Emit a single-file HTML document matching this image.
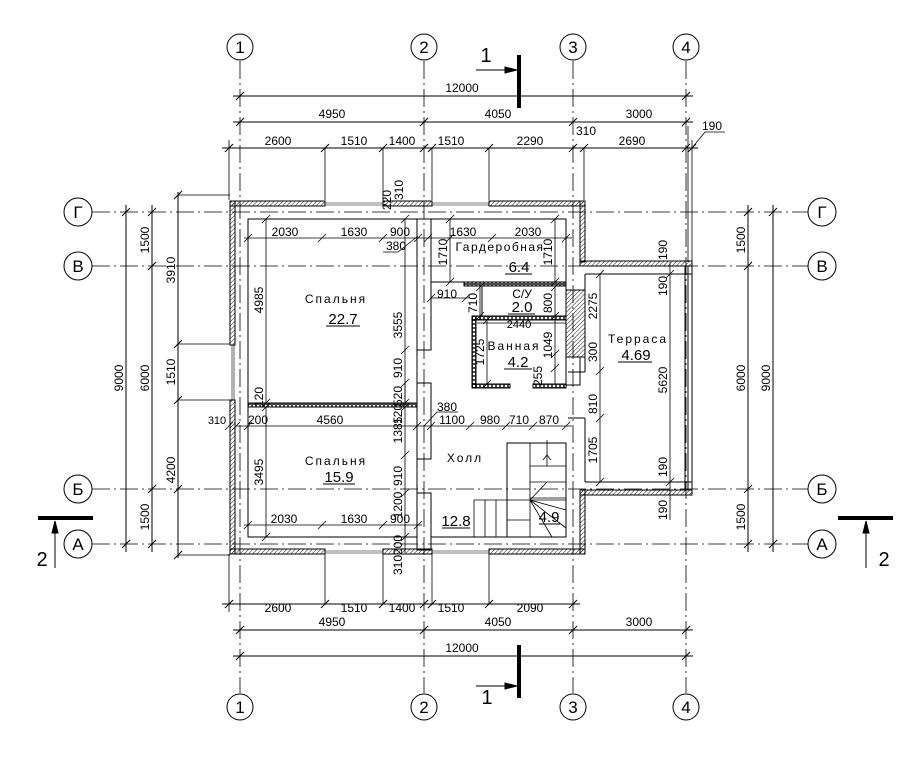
<!DOCTYPE html>
<html><head><meta charset="utf-8"><style>
html,body{margin:0;padding:0;background:#fff}
svg{display:block}
text{font-family:"Liberation Sans",sans-serif;font-size:12px;fill:#000}
</style></head><body>
<svg width="911" height="762" viewBox="0 0 911 762" xmlns="http://www.w3.org/2000/svg">
<defs>
<pattern id="h" width="3" height="3" patternUnits="userSpaceOnUse" patternTransform="rotate(45)"><line x1="0" y1="0" x2="0" y2="3" stroke="#000" stroke-width="0.9"/></pattern>
<pattern id="b" width="4" height="4" patternUnits="userSpaceOnUse"><rect x="0.5" y="0.5" width="3" height="3" fill="none" stroke="#000" stroke-width="0.7"/></pattern>
</defs>
<g stroke="#000" fill="none" stroke-width="1">
<g stroke-dasharray="18,4,2,4" stroke-width="0.8">
<line x1="240" y1="61" x2="240" y2="693"/><line x1="424" y1="61" x2="424" y2="693"/>
<line x1="573" y1="61" x2="573" y2="693"/><line x1="686" y1="61" x2="686" y2="693"/>
<line x1="92" y1="212" x2="808" y2="212"/><line x1="92" y1="266" x2="808" y2="266"/>
<line x1="92" y1="489" x2="808" y2="489"/><line x1="92" y1="544" x2="808" y2="544"/>
</g>
<circle cx="240" cy="47" r="13"/><circle cx="424" cy="47" r="13"/><circle cx="573" cy="47" r="13"/><circle cx="686" cy="47" r="13"/>
<circle cx="240" cy="707" r="13"/><circle cx="424" cy="707" r="13"/><circle cx="573" cy="707" r="13"/><circle cx="686" cy="707" r="13"/>
<circle cx="78" cy="212" r="14"/><circle cx="78" cy="266" r="14"/><circle cx="78" cy="489" r="14"/><circle cx="78" cy="544" r="14"/>
<circle cx="822" cy="212" r="14"/><circle cx="822" cy="266" r="14"/><circle cx="822" cy="489" r="14"/><circle cx="822" cy="544" r="14"/>

<line x1="233" y1="96" x2="693" y2="96"/>
<line x1="233" y1="122" x2="693" y2="122"/>
<line x1="222" y1="148" x2="698" y2="148"/>
<path d="M236 100L244 92M682 100L690 92M236 126L244 118M420 126L428 118M569 126L577 118M682 126L690 118
M225 152L233 144M321 152L329 144M379 152L387 144M420 152L428 144M428 152L436 144M485 152L493 144M569 152L577 144M580 152L588 144M682 152L690 144M688 152L696 144"/>
<path d="M229 140V200M325 148V200M383 148V200M432 148V200M489 148V200M584 148V200M692 140V262M688 126V262" stroke-width="0.8"/>
<path d="M692 148L705 132H725" stroke-width="0.8"/>
<line x1="222" y1="604" x2="580" y2="604"/>
<line x1="233" y1="630" x2="693" y2="630"/>
<line x1="233" y1="656" x2="693" y2="656"/>
<path d="M225 608L233 600M321 608L329 600M379 608L387 600M420 608L428 600M428 608L436 600M485 608L493 600M569 608L577 600
M236 634L244 626M420 634L428 626M569 634L577 626M682 634L690 626M236 660L244 652M682 660L690 652"/>
<path d="M229 554V612M325 554V604M383 554V604M432 554V604M489 554V604" stroke-width="0.8"/>
<line x1="126" y1="205" x2="126" y2="552"/><line x1="152" y1="205" x2="152" y2="552"/><line x1="178" y1="192" x2="178" y2="558"/>
<path d="M122 216L130 208M122 548L130 540M148 216L156 208M148 270L156 262M148 493L156 485M148 548L156 540M174 199L182 191M174 348L182 340M174 404L182 396M174 493L182 485M174 559L182 551"/>
<path d="M178 344H230M178 400H230M178 195H230M178 555H230" stroke-width="0.8"/>
<line x1="748" y1="205" x2="748" y2="552"/><line x1="773" y1="205" x2="773" y2="552"/>
<path d="M744 216L752 208M744 270L752 262M744 493L752 485M744 548L752 540M769 216L777 208M769 548L777 540"/>

<line x1="519" y1="55" x2="519" y2="108" stroke-width="4"/>
<line x1="476" y1="70" x2="510" y2="70"/><path d="M505 67L517 70L505 73Z" fill="#000"/>
<line x1="519" y1="645" x2="519" y2="698" stroke-width="4"/>
<line x1="476" y1="686" x2="510" y2="686"/><path d="M505 683L517 686L505 689Z" fill="#000"/>
<line x1="38" y1="518" x2="93" y2="518" stroke-width="4"/>
<line x1="55" y1="568" x2="55" y2="530"/><path d="M52 533L55 521L58 533Z" fill="#000"/>
<line x1="838" y1="518" x2="893" y2="518" stroke-width="4"/>
<line x1="866" y1="568" x2="866" y2="530"/><path d="M863 533L866 521L869 533Z" fill="#000"/>

<g fill="url(#h)" stroke-width="1">
<rect x="230" y="201" width="95" height="5"/><rect x="383" y="201" width="49" height="5"/><rect x="489" y="201" width="96" height="5"/>
<rect x="230" y="549" width="95" height="5"/><rect x="383" y="549" width="49" height="5"/><rect x="489" y="549" width="96" height="5"/>
<rect x="230" y="201" width="5" height="144"/><rect x="230" y="400" width="5" height="154"/>
<rect x="580" y="201" width="5" height="61"/><rect x="580" y="490" width="5" height="64"/>
<rect x="580" y="261" width="112" height="5"/><rect x="580" y="490" width="112" height="5"/>
<rect x="248" y="403" width="169" height="4" fill="url(#b)"/>
<rect x="464" y="282" width="102" height="4" fill="url(#b)"/>
<rect x="472" y="316" width="94" height="4" fill="url(#b)"/>
<rect x="472" y="316" width="4" height="72" fill="url(#b)"/>
<rect x="472" y="384" width="38" height="4" fill="url(#b)"/>
<rect x="533" y="384" width="33" height="4" fill="url(#b)"/>
<rect x="566" y="290" width="19" height="67"/>
</g>
<rect x="566" y="357" width="14" height="28"/>
<path d="M325 203H383M325 205H383M432 203H489M432 205H489M325 551H383M325 553H383M432 551H489M432 553H489M232 345V400M234 345V400" stroke-width="0.6"/>
<path d="M585 274H692M585 482H692M685 266V490M688 266V490M692 261V495M585 274V372M585 418V482M568 372H585M568 418H585"/>
<rect x="248" y="219" width="169" height="184"/>
<rect x="248" y="407" width="169" height="130"/>
<path d="M417 219H431V350H417ZM417 383H431V459H417ZM417 493H431V550H417Z"/>
<path d="M431 219H566V282M431 282H464M482 286V316M566 286V316M566 320V384M431 537H507M507 443H566V537H507Z"/>
<path d="M530 443V537M530 466H566M530 482H566M530 498H566M507 500H566M507 520H530M474 500H507V537H474ZM485 500V537M496 500V537M547 482L530 500L566 510M530 500L566 528M530 500L552 537M547 466V440" stroke-width="0.8"/>
<path d="M543 460L547 455L551 460" stroke-width="0.8"/>

<g stroke-width="0.8">
<line x1="244" y1="238" x2="572" y2="238"/>
<path d="M244 242L252 234M318 242L326 234M379 242L387 234M414 242L422 234M424 242L432 234M446 242L454 234M488 242L496 234M562 242L570 234"/>
<path d="M383 252H398L418 236"/>
<line x1="266" y1="219" x2="266" y2="403"/><path d="M262 223L270 215M262 407L270 399"/>
<line x1="405" y1="219" x2="405" y2="403"/><path d="M401 223L409 215M401 354L409 346M401 387L409 379M401 407L409 399"/>
<line x1="450" y1="219" x2="450" y2="282"/><path d="M446 223L454 215M446 286L454 278"/>
<line x1="555" y1="219" x2="555" y2="282"/><path d="M551 223L559 215M551 286L559 278"/>
<line x1="431" y1="298" x2="470" y2="298"/><path d="M427 302L435 294M462 302L470 294"/>
<line x1="480" y1="287" x2="480" y2="320"/><path d="M476 291L484 283M476 320L484 312"/>
<line x1="555" y1="287" x2="555" y2="320"/><path d="M551 291L559 283M551 320L559 312"/>
<line x1="477" y1="323" x2="566" y2="323"/>
<line x1="487" y1="320" x2="487" y2="384"/><path d="M483 324L491 316M483 388L491 380"/>
<line x1="555" y1="320" x2="555" y2="384"/><path d="M551 358L559 350M551 372L559 364"/>
<line x1="236" y1="426" x2="572" y2="426"/>
<path d="M225 430L233 422M232 430L240 422M244 430L252 422M413 430L421 422M427 430L435 422M466 430L474 422M502 430L510 422M529 430L537 422M562 430L570 422"/>
<path d="M424 426L437 412H458"/>
<line x1="266" y1="407" x2="266" y2="537"/><path d="M262 411L270 403M262 541L270 533"/>
<line x1="405" y1="383" x2="405" y2="553"/><path d="M401 411L409 403M401 459L409 451M401 497L409 489M401 541L409 533"/>
<line x1="244" y1="525" x2="422" y2="525"/>
<path d="M244 529L252 521M318 529L326 521M379 529L387 521M414 529L422 521"/>
<line x1="600" y1="274" x2="600" y2="482"/><path d="M596 278L604 270M596 375L604 367M596 422L604 414M596 486L604 478"/>
<line x1="670" y1="262" x2="670" y2="520"/><path d="M666 278L674 270M666 486L674 478"/>
</g>
</g>
<g stroke="#000" stroke-width="1">
<line x1="326" y1="326" x2="360" y2="326"/><line x1="323" y1="484" x2="355" y2="484"/>
<line x1="442" y1="528" x2="470" y2="528"/><line x1="505" y1="274" x2="532" y2="274"/>
<line x1="508" y1="314" x2="535" y2="314"/><line x1="504" y1="369" x2="532" y2="369"/>
<line x1="618" y1="362" x2="652" y2="362"/><line x1="539" y1="524" x2="560" y2="524"/>
</g>
<g text-anchor="middle">
<text x="240" y="53" style="font-size:17px">1</text><text x="424" y="53" style="font-size:17px">2</text><text x="573" y="53" style="font-size:17px">3</text><text x="686" y="53" style="font-size:17px">4</text>
<text x="240" y="713" style="font-size:17px">1</text><text x="424" y="713" style="font-size:17px">2</text><text x="573" y="713" style="font-size:17px">3</text><text x="686" y="713" style="font-size:17px">4</text>
<text x="78" y="218" style="font-size:17px">Г</text><text x="78" y="272" style="font-size:17px">В</text><text x="78" y="495" style="font-size:17px">Б</text><text x="78" y="550" style="font-size:17px">А</text>
<text x="822" y="218" style="font-size:17px">Г</text><text x="822" y="272" style="font-size:17px">В</text><text x="822" y="495" style="font-size:17px">Б</text><text x="822" y="550" style="font-size:17px">А</text>
<text x="486" y="62" style="font-size:20px">1</text><text x="487" y="704" style="font-size:20px">1</text>
<text x="42" y="566" style="font-size:20px">2</text><text x="884" y="566" style="font-size:20px">2</text>
</g>
<g text-anchor="middle">
<text x="462" y="92">12000</text>
<text x="332" y="118">4950</text><text x="498" y="118">4050</text><text x="639" y="118">3000</text>
<text x="278" y="145">2600</text><text x="354" y="145">1510</text><text x="402" y="145">1400</text><text x="451" y="145">1510</text><text x="530" y="145">2290</text><text x="586" y="135">310</text><text x="632" y="145">2690</text><text x="712" y="130">190</text>
<text x="278" y="612">2600</text><text x="354" y="612">1510</text><text x="402" y="612">1400</text><text x="451" y="612">1510</text><text x="530" y="612">2090</text>
<text x="332" y="626">4950</text><text x="498" y="626">4050</text><text x="639" y="626">3000</text>
<text x="462" y="652">12000</text>
<text x="285" y="236">2030</text><text x="354" y="236">1630</text><text x="400" y="236">900</text><text x="463" y="236">1630</text><text x="528" y="236">2030</text>
<text x="396" y="250">380</text>
<text x="447" y="298">910</text><text x="519" y="328" style="font-size:11px">2440</text>
<text x="217" y="424" style="font-size:11px">310</text><text x="258" y="424">200</text><text x="330" y="424">4560</text><text x="452" y="424">1100</text><text x="490" y="424">980</text><text x="519" y="424">710</text><text x="549" y="424">870</text>
<text x="447" y="411">380</text>
<text x="284" y="523">2030</text><text x="354" y="523">1630</text><text x="400" y="523">900</text>
<text x="336" y="303" letter-spacing="2">Спальня</text>
<text x="343" y="324" style="font-size:15px">22.7</text>
<text x="336" y="465" letter-spacing="2">Спальня</text>
<text x="339" y="482" style="font-size:15px">15.9</text>
<text x="465" y="462" letter-spacing="2">Холл</text>
<text x="456" y="526" style="font-size:15px">12.8</text>
<text x="549" y="522" style="font-size:15px">4.9</text>
<text x="500" y="251" letter-spacing="1.5">Гардеробная</text>
<text x="519" y="272" style="font-size:15px">6.4</text>
<text x="522" y="298">С/У</text>
<text x="522" y="312" style="font-size:15px">2.0</text>
<text x="514" y="350" letter-spacing="2">Ванная</text>
<text x="518" y="367" style="font-size:15px">4.2</text>
<text x="638" y="343" letter-spacing="2">Терраса</text>
<text x="636" y="360" style="font-size:15px">4.69</text>
</g>
<g text-anchor="middle" style="font-size:11px">
<text transform="translate(123,378) rotate(-90)">9000</text>
<text transform="translate(149,378) rotate(-90)">6000</text>
<text transform="translate(149,240) rotate(-90)">1500</text>
<text transform="translate(149,517) rotate(-90)">1500</text>
<text transform="translate(175,270) rotate(-90)">3910</text>
<text transform="translate(175,372) rotate(-90)">1510</text>
<text transform="translate(175,470) rotate(-90)">4200</text>
<text transform="translate(745,378) rotate(-90)">6000</text>
<text transform="translate(770,378) rotate(-90)">9000</text>
<text transform="translate(745,240) rotate(-90)">1500</text>
<text transform="translate(745,517) rotate(-90)">1500</text>
<text transform="translate(263,300) rotate(-90)">4985</text>
<text transform="translate(402,325) rotate(-90)">3555</text>
<text transform="translate(402,368) rotate(-90)">910</text>
<text transform="translate(402,396) rotate(-90)">520</text>
<text transform="translate(402,414) rotate(-90)">120</text>
<text transform="translate(402,430) rotate(-90)">1385</text>
<text transform="translate(402,476) rotate(-90)">910</text>
<text transform="translate(402,505) rotate(-90)">1200</text>
<text transform="translate(402,545) rotate(-90)">200</text>
<text transform="translate(402,565) rotate(-90)">310</text>
<text transform="translate(263,472) rotate(-90)">3495</text>
<text transform="translate(263,397) rotate(-90)">120</text>
<text transform="translate(447,252) rotate(-90)">1710</text>
<text transform="translate(552,252) rotate(-90)">1710</text>
<text transform="translate(477,303) rotate(-90)">710</text>
<text transform="translate(552,303) rotate(-90)">800</text>
<text transform="translate(484,352) rotate(-90)">1725</text>
<text transform="translate(552,345) rotate(-90)">1049</text>
<text transform="translate(542,376) rotate(-90)">255</text>
<text transform="translate(597,306) rotate(-90)">2275</text>
<text transform="translate(597,352) rotate(-90)">300</text>
<text transform="translate(597,404) rotate(-90)">810</text>
<text transform="translate(597,450) rotate(-90)">1705</text>
<text transform="translate(667,380) rotate(-90)">5620</text>
<text transform="translate(667,250) rotate(-90)">190</text>
<text transform="translate(667,286) rotate(-90)">190</text>
<text transform="translate(667,467) rotate(-90)">190</text>
<text transform="translate(667,510) rotate(-90)">190</text>
<text transform="translate(391,200) rotate(-90)">220</text>
<text transform="translate(403,190) rotate(-90)">310</text>
</g>
</svg>
</body></html>
